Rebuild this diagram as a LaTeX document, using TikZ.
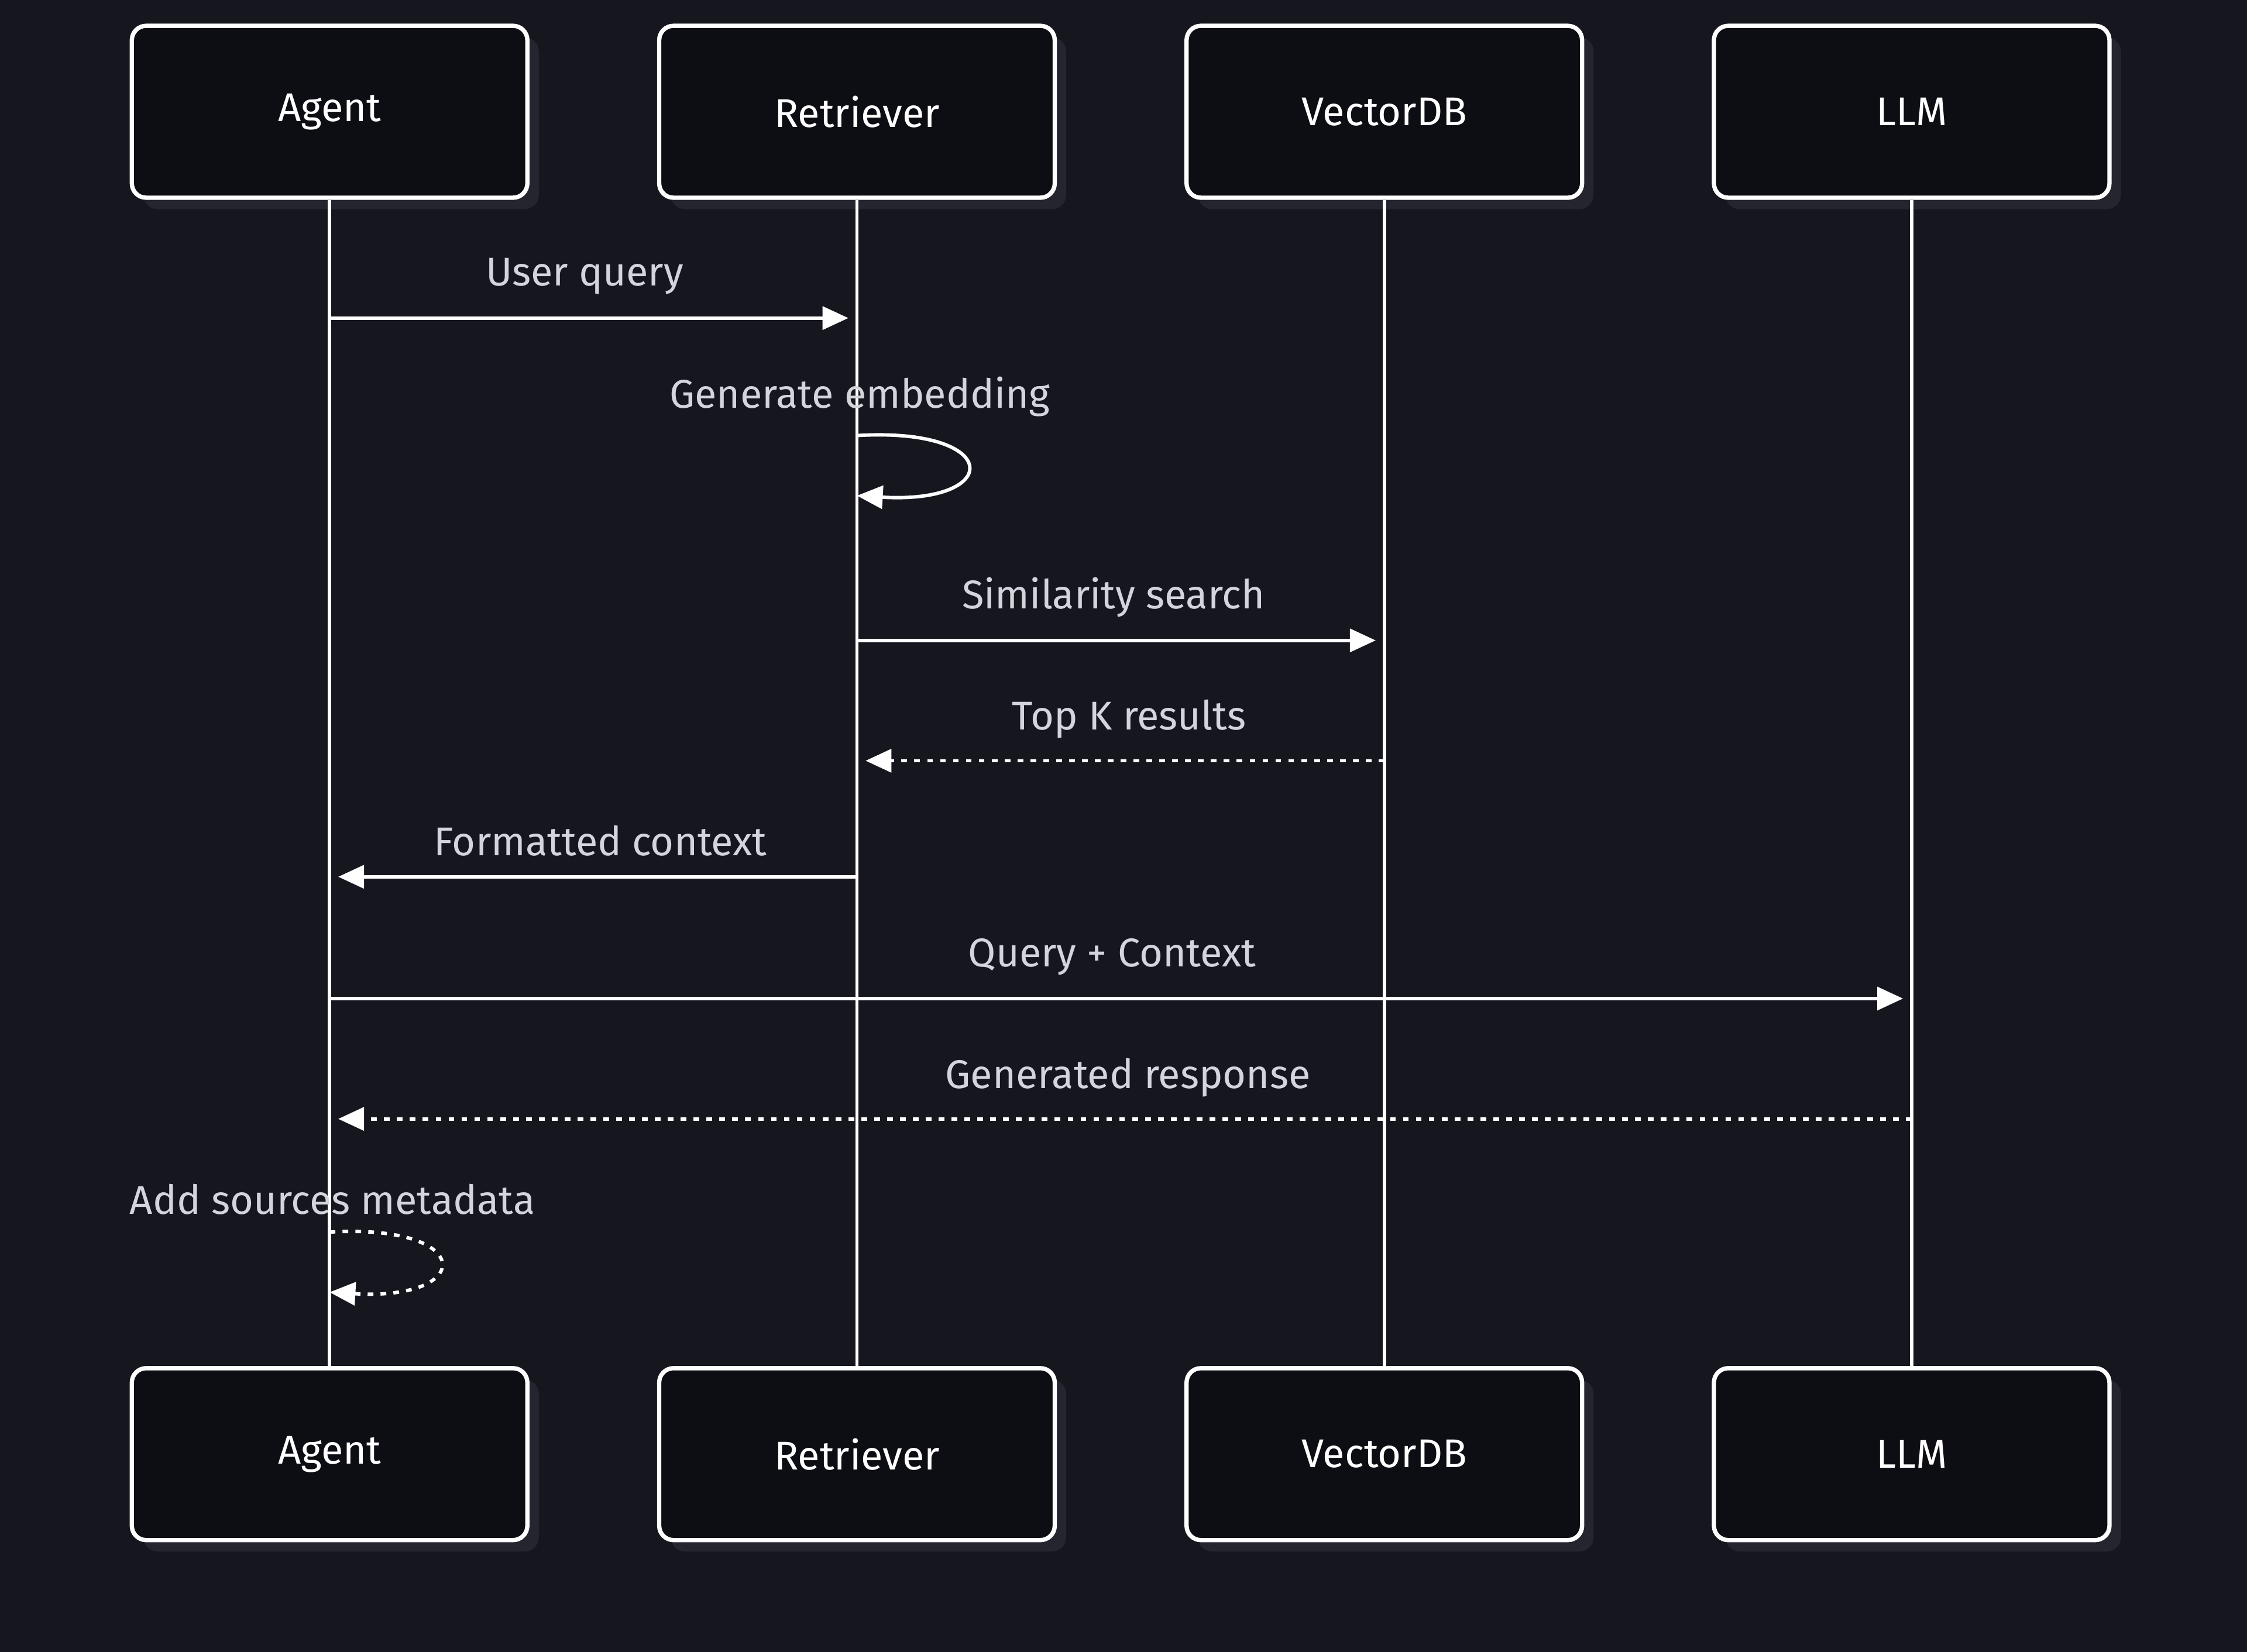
\documentclass[tikz,border=0pt]{standalone}
\usepackage{fontspec}
\setmainfont{Fira Sans}
\usetikzlibrary{arrows.meta}
\definecolor{bg}{HTML}{16161F}
\definecolor{boxfill}{HTML}{0D0D14}
\definecolor{shadow}{HTML}{25252F}
\definecolor{lbl}{HTML}{D4D4DC}
\begin{document}
\begin{tikzpicture}[x=0.5pt,y=-0.5pt,
  actor/.style={draw=white,line width=1.5pt,fill=boxfill,rounded corners=5pt,minimum width=138pt,minimum height=60pt,text=white,font=\fontsize{14}{16}\selectfont},
  life/.style={draw=white,line width=1.2pt},
  msg/.style={draw=white,line width=1.2pt,-{Triangle[length=9pt,width=8pt]},shorten >=3pt},
  dmsg/.style={msg,dash pattern=on 2pt off 2.5pt},
  lab/.style={text=lbl,font=\fontsize{14}{16}\selectfont}]
\fill[bg] (0,0) rectangle (1568,1153);
\useasboundingbox (0,0) rectangle (1568,1153);
\foreach \n/\t/\x in {a/Agent/230,r/Retriever/598,v/VectorDB/966,l/LLM/1334}{
  \fill[shadow,rounded corners=5pt] (\x-130,26) rectangle (\x+146,146);
  \fill[shadow,rounded corners=5pt] (\x-130,963) rectangle (\x+146,1083);
  \node[actor] (\n t) at (\x,78) {\t};
  \node[actor] (\n b) at (\x,1015) {\t};
  \draw[life] (\n t) -- (\n b);
}
\coordinate (a1) at (230,222); \coordinate (r1) at (598,222);
\draw[msg] (a1) -- (r1);
\node[lab] at (408,193) {User query};
\coordinate (r2) at (598,304); \coordinate (r3) at (598,346);
\draw[msg,shorten >=0pt] (r2) .. controls (700,298) and (700,352) .. (r3);
\node[lab] at (600,277) {Generate embedding};
\coordinate (r4) at (598,447); \coordinate (v4) at (966,447);
\draw[msg] (r4) -- (v4);
\node[lab] at (777,417) {Similarity search};
\coordinate (v5) at (966,531); \coordinate (r5) at (598,531);
\draw[dmsg] (v5) -- (r5);
\node[lab] at (788,502) {Top K results};
\coordinate (r6) at (598,612); \coordinate (a6) at (230,612);
\draw[msg] (r6) -- (a6);
\node[lab] at (419,587) {Formatted context};
\coordinate (a7) at (230,697); \coordinate (l7) at (1334,697);
\draw[msg] (a7) -- (l7);
\node[lab] at (776,668) {Query + Context};
\coordinate (l8) at (1334,781); \coordinate (a8) at (230,781);
\draw[dmsg] (l8) -- (a8);
\node[lab] at (787,752) {Generated response};
\coordinate (a9) at (230,860); \coordinate (a10) at (230,902);
\draw[dmsg,shorten >=0pt] (a9) .. controls (332,854) and (332,908) .. (a10);
\node[lab] at (232,837) {Add sources metadata};
\end{tikzpicture}
\end{document}
